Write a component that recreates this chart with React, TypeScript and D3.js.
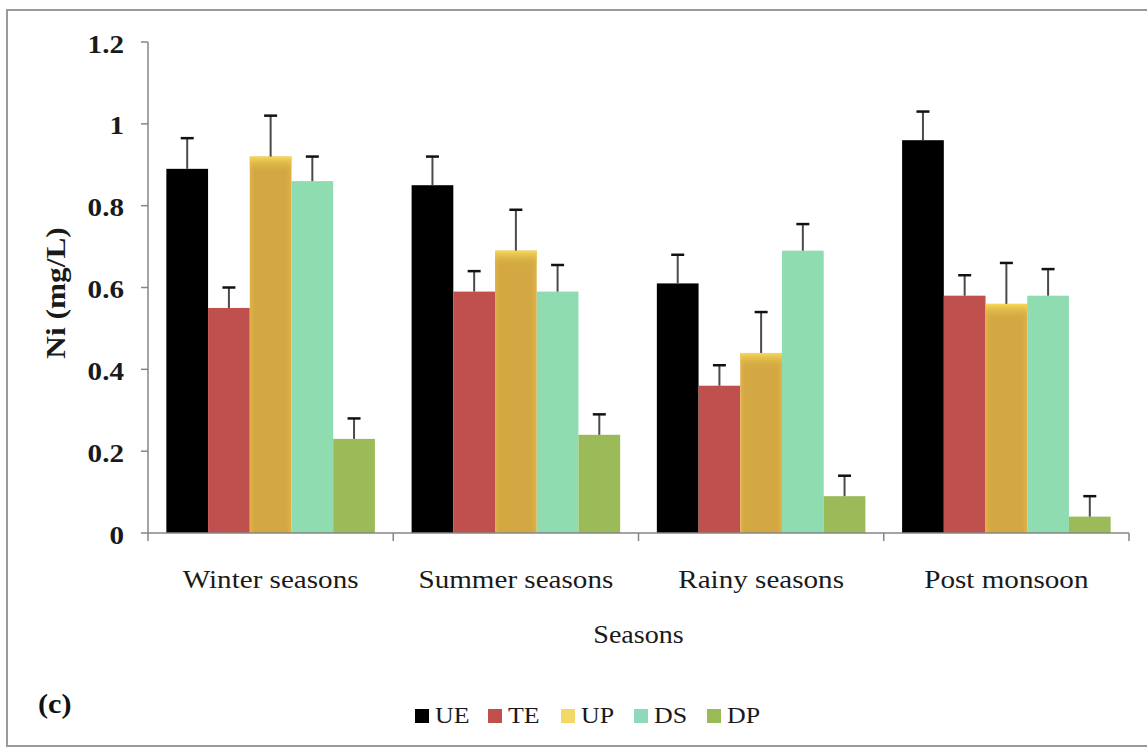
import React from "react";
import * as d3 from "d3";

const categories = ["Winter seasons", "Summer seasons", "Rainy seasons", "Post monsoon"];
const seriesNames = ["UE", "TE", "UP", "DS", "DP"];
const UE = [0.89, 0.85, 0.61, 0.96];
const TE = [0.55, 0.59, 0.36, 0.58];
const UP = [0.92, 0.69, 0.44, 0.56];
const DS = [0.86, 0.59, 0.69, 0.58];
const DP = [0.23, 0.24, 0.09, 0.04];
const UEerr = [0.075, 0.07, 0.07, 0.07];
const TEerr = [0.05, 0.05, 0.05, 0.05];
const UPerr = [0.1, 0.1, 0.1, 0.1];
const DSerr = [0.06, 0.065, 0.065, 0.065];
const DPerr = [0.05, 0.05, 0.05, 0.05];
const yTicks = [0, 0.2, 0.4, 0.6, 0.8, 1, 1.2];
const seriesColors = ["#000000", "#c0504d", "#d3a843", "#8edcb0", "#9bbb59"];
const legendColors = ["#000000", "#c0504d", "#f2d865", "#8ed9bb", "#9bbb59"];

const values = [UE, TE, UP, DS, DP];
const errors = [UEerr, TEerr, UPerr, DSerr, DPerr];

const W = 1147;
const H = 749;
const FONT = "Liberation Serif";
const SX = 1.12;

export default function App() {
  const x0 = d3.scaleBand<string>().domain(categories).range([148, 1129]).paddingInner(0).paddingOuter(0);
  const x1 = d3
    .scaleBand<string>()
    .domain(seriesNames)
    .range([0, x0.bandwidth()])
    .paddingInner(0)
    .paddingOuter(0.44);
  const y = d3.scaleLinear().domain([0, 1.2]).range([533, 42]);
  const legendX = d3.scalePoint<string>().domain(seriesNames).range([415, 707]);
  const bw = x1.bandwidth();
  const catTicks = [...categories.map((c) => x0(c) as number), 1129];

  return (
    <svg
      width={W}
      height={H}
      style={{ position: "absolute", left: 0, top: 0, display: "block", background: "#fff" }}
    >
      <defs>
        <linearGradient id="upH" x1="0" y1="0" x2="1" y2="0">
          <stop offset="0" stopColor="#e2b048" />
          <stop offset="0.12" stopColor="#d3a843" />
          <stop offset="0.88" stopColor="#d3a843" />
          <stop offset="1" stopColor="#e2b048" />
        </linearGradient>
        <linearGradient id="upTop" x1="0" y1="0" x2="0" y2="1">
          <stop offset="0" stopColor="#f7da55" stopOpacity="1" />
          <stop offset="1" stopColor="#d3a843" stopOpacity="0" />
        </linearGradient>
      </defs>
      <rect x={0} y={0} width={W} height={H} fill="#ffffff" />
      <rect x={7} y={10} width={W + 20} height={736} fill="none" stroke="#9a9a9a" strokeWidth={2} />

      <line x1={148} x2={148} y1={y(1.2)} y2={y(0)} stroke="#868686" strokeWidth={1.5} />
      {yTicks.map((t) => (
        <g key={t}>
          <line x1={141} x2={148} y1={y(t)} y2={y(t)} stroke="#868686" strokeWidth={1.5} />
          <text
            transform={`translate(124,${y(t) + 10.5}) scale(${SX},1)`}
            textAnchor="end"
            fontFamily={FONT}
            fontWeight="bold"
            fontSize={26}
            fill="#1a1a1a"
          >
            {String(t)}
          </text>
        </g>
      ))}

      {categories.map((c, ci) => (
        <g key={c} transform={`translate(${x0(c)},0)`}>
          {seriesNames.map((s, si) => {
            const v = values[si][ci];
            const bx = x1(s) as number;
            const top = y(v);
            const h = y(0) - top;
            if (s === "UP") {
              return (
                <g key={s}>
                  <rect x={bx} y={top} width={bw} height={h} fill="url(#upH)" />
                  <rect x={bx} y={top} width={bw} height={Math.min(16, h)} fill="url(#upTop)" />
                </g>
              );
            }
            return <rect key={s} x={bx} y={top} width={bw} height={h} fill={seriesColors[si]} />;
          })}
          {seriesNames.map((s, si) => {
            const v = values[si][ci];
            const e = errors[si][ci];
            const cx = (x1(s) as number) + bw / 2;
            return (
              <g key={s + "e"}>
                <line x1={cx} x2={cx} y1={y(v)} y2={y(v + e)} stroke="#4a4a4a" strokeWidth={2} />
                <line x1={cx - 6.5} x2={cx + 6.5} y1={y(v + e)} y2={y(v + e)} stroke="#111" strokeWidth={2.5} />
              </g>
            );
          })}
        </g>
      ))}

      <line x1={148} x2={1129} y1={y(0)} y2={y(0)} stroke="#868686" strokeWidth={1.5} />
      {catTicks.map((tx, i) => (
        <line key={i} x1={tx} x2={tx} y1={y(0)} y2={y(0) + 8} stroke="#868686" strokeWidth={1.5} />
      ))}
      {categories.map((c) => (
        <text
          key={c}
          transform={`translate(${(x0(c) as number) + x0.bandwidth() / 2},588) scale(${SX},1)`}
          textAnchor="middle"
          fontFamily={FONT}
          fontSize={26}
          fill="#1a1a1a"
        >
          {c}
        </text>
      ))}

      <text
        transform={`translate(638.5,643) scale(1.08,1)`}
        textAnchor="middle"
        fontFamily={FONT}
        fontSize={26}
        fill="#1a1a1a"
      >
        Seasons
      </text>
      <text
        transform={`translate(65,293) rotate(-90) scale(${SX},1)`}
        textAnchor="middle"
        fontFamily={FONT}
        fontWeight="bold"
        fontSize={28}
        fill="#1a1a1a"
      >
        Ni (mg/L)
      </text>

      <text
        transform={`translate(38,713) scale(${SX},1)`}
        fontFamily={FONT}
        fontWeight="bold"
        fontSize={27}
        fill="#111"
      >
        (c)
      </text>

      {seriesNames.map((s, si) => {
        const lx = legendX(s) as number;
        return (
          <g key={s}>
            <rect x={lx} y={709} width={14} height={14} fill={legendColors[si]} />
            <text
              transform={`translate(${lx + 20},723) scale(1.08,1)`}
              fontFamily={FONT}
              fontSize={24}
              fill="#1a1a1a"
            >
              {s}
            </text>
          </g>
        );
      })}
    </svg>
  );
}
